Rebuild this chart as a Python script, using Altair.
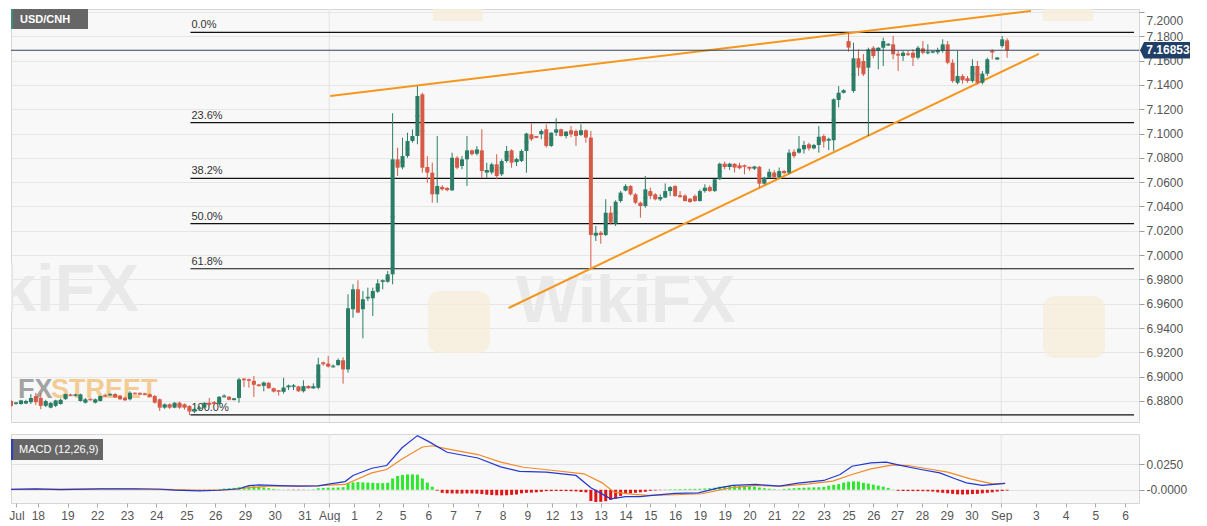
import json
import altair as alt
import pandas as pd

# ---------------- data ----------------
opens = [
    6.8800, 6.8780, 6.8775, 6.8780, 6.8790, 6.8840, 6.8825, 6.8760, 6.8745, 6.8760,
    6.8775, 6.8815, 6.8850, 6.8845, 6.8800, 6.8786, 6.8814, 6.8786, 6.8800, 6.8845,
    6.8850, 6.8857, 6.8841, 6.8827, 6.8814, 6.8862, 6.8863, 6.8860, 6.8855, 6.8841,
    6.8814, 6.8745, 6.8773, 6.8745, 6.8786, 6.8773, 6.8759, 6.8713, 6.8735, 6.8745,
    6.8785, 6.8790, 6.8775, 6.8835, 6.8835, 6.8810, 6.8825, 6.8980, 6.8975, 6.8966,
    6.8933, 6.8925, 6.8950, 6.8905, 6.8885, 6.8875, 6.8915, 6.8920, 6.8920, 6.8880,
    6.8923, 6.8905, 6.8909, 6.9115, 6.9107, 6.9083, 6.9095, 6.9135, 6.9060, 6.9555,
    6.9719, 6.9555, 6.9648, 6.9645, 6.9699, 6.9783, 6.9781, 6.9842, 7.0788, 7.0722,
    7.0815, 7.0939, 7.0980, 7.1323, 7.0725, 7.0678, 7.0500, 7.0561, 7.0552, 7.0533,
    7.0801, 7.0733, 7.0788, 7.0862, 7.0834, 7.0862, 7.0680, 7.0680, 7.0747, 7.0665,
    7.0774, 7.0862, 7.0765, 7.0774, 7.0857, 7.0994, 7.0978, 7.0994, 7.1035, 7.0898,
    7.1007, 7.1035, 7.0980, 7.1027, 7.1021, 7.0989, 7.1027, 7.0967, 7.0160, 7.0184,
    7.0166, 7.0349, 7.0258, 7.0445, 7.0531, 7.0569, 7.0500, 7.0431, 7.0404, 7.0527,
    7.0500, 7.0459, 7.0473, 7.0527, 7.0569, 7.0490, 7.0490, 7.0464, 7.0486, 7.0445,
    7.0527, 7.0560, 7.0527, 7.0624, 7.0752, 7.0725, 7.0752, 7.0738, 7.0735, 7.0725,
    7.0713, 7.0727, 7.0588, 7.0637, 7.0680, 7.0640, 7.0692, 7.0678, 7.0850, 7.0843,
    7.0870, 7.0912, 7.0878, 7.0906, 7.0980, 7.0945, 7.0945, 7.1276, 7.1336, 7.1761,
    7.1350, 7.1619, 7.1597, 7.1542, 7.1706, 7.1679, 7.1706, 7.1728, 7.1734, 7.1652,
    7.1638, 7.1655, 7.1665, 7.1624, 7.1701, 7.1665, 7.1670, 7.1670, 7.1679, 7.1734,
    7.1583, 7.1418, 7.1474, 7.1455, 7.1432, 7.1556, 7.1418, 7.1493, 7.1679, 7.1611,
    7.1720, 7.1767,
]
highs = [
    6.8810, 6.8790, 6.8810, 6.8810, 6.8857, 6.8866, 6.8866, 6.8810, 6.8790, 6.8810,
    6.8820, 6.8860, 6.8860, 6.8860, 6.8860, 6.8825, 6.8820, 6.8820, 6.8845, 6.8860,
    6.8860, 6.8865, 6.8850, 6.8835, 6.8880, 6.8870, 6.8870, 6.8868, 6.8862, 6.8850,
    6.8820, 6.8780, 6.8780, 6.8790, 6.8795, 6.8780, 6.8765, 6.8745, 6.8760, 6.8790,
    6.8825, 6.8800, 6.8840, 6.8855, 6.8840, 6.8825, 6.8990, 6.8990, 6.8985, 6.9006,
    6.8940, 6.8960, 6.8955, 6.8910, 6.8890, 6.8990, 6.8935, 6.8940, 6.8925, 6.8970,
    6.8930, 6.8945, 6.9156, 6.9125, 6.9170, 6.9100, 6.9150, 6.9160, 6.9678, 6.9760,
    6.9793, 6.9705, 6.9732, 6.9732, 6.9801, 6.9800, 6.9869, 7.1167, 7.0884, 7.0966,
    7.1007, 7.1034, 7.1391, 7.1336, 7.0815, 7.0760, 7.0980, 7.0575, 7.0560, 7.0843,
    7.0815, 7.0815, 7.0980, 7.0869, 7.0897, 7.1035, 7.0760, 7.0760, 7.0830, 7.0788,
    7.0898, 7.0870, 7.0801, 7.0870, 7.1007, 7.1082, 7.0980, 7.1035, 7.1076, 7.1010,
    7.1126, 7.1040, 7.1020, 7.1062, 7.1035, 7.1076, 7.1035, 7.1021, 7.0240, 7.0198,
    7.0459, 7.0404, 7.0451, 7.0528, 7.0583, 7.0575, 7.0510, 7.0440, 7.0651, 7.0555,
    7.0510, 7.0500, 7.0590, 7.0569, 7.0575, 7.0527, 7.0500, 7.0470, 7.0500, 7.0540,
    7.0583, 7.0575, 7.0630, 7.0760, 7.0770, 7.0760, 7.0755, 7.0760, 7.0745, 7.0728,
    7.0735, 7.0733, 7.0645, 7.0710, 7.0700, 7.0720, 7.0700, 7.0870, 7.0870, 7.0980,
    7.0939, 7.0925, 7.0915, 7.1062, 7.0994, 7.0967, 7.1290, 7.1391, 7.1365, 7.1830,
    7.1748, 7.1693, 7.1654, 7.1706, 7.1720, 7.1710, 7.1789, 7.1745, 7.1803, 7.1679,
    7.1679, 7.1679, 7.1693, 7.1720, 7.1761, 7.1734, 7.1680, 7.1706, 7.1775, 7.1761,
    7.1611, 7.1679, 7.1488, 7.1474, 7.1611, 7.1597, 7.1515, 7.1624, 7.1693, 7.1630,
    7.1803, 7.1784,
]
lows = [
    6.8750, 6.8770, 6.8770, 6.8775, 6.8775, 6.8766, 6.8733, 6.8750, 6.8740, 6.8750,
    6.8770, 6.8810, 6.8840, 6.8840, 6.8795, 6.8780, 6.8805, 6.8780, 6.8795, 6.8830,
    6.8840, 6.8825, 6.8810, 6.8800, 6.8805, 6.8855, 6.8850, 6.8848, 6.8830, 6.8780,
    6.8718, 6.8735, 6.8735, 6.8740, 6.8735, 6.8730, 6.8685, 6.8700, 6.8720, 6.8740,
    6.8760, 6.8770, 6.8770, 6.8830, 6.8805, 6.8805, 6.8786, 6.8915, 6.8910, 6.8833,
    6.8920, 6.8880, 6.8900, 6.8870, 6.8845, 6.8860, 6.8890, 6.8890, 6.8875, 6.8870,
    6.8900, 6.8900, 6.8897, 6.9090, 6.9075, 6.9075, 6.9090, 6.8943, 6.9033, 6.9485,
    6.9525, 6.9316, 6.9622, 6.9499, 6.9690, 6.9718, 6.9773, 6.9760, 7.0651, 7.0706,
    7.0801, 7.0925, 7.0912, 7.0678, 7.0596, 7.0431, 7.0431, 7.0530, 7.0525, 7.0528,
    7.0706, 7.0706, 7.0569, 7.0820, 7.0820, 7.0637, 7.0637, 7.0665, 7.0624, 7.0651,
    7.0760, 7.0719, 7.0733, 7.0765, 7.0678, 7.0939, 7.0962, 7.0953, 7.0884, 7.0890,
    7.0980, 7.0975, 7.0960, 7.0970, 7.0898, 7.0980, 7.0925, 6.9897, 7.0116, 7.0094,
    7.0157, 7.0253, 7.0239, 7.0432, 7.0525, 7.0490, 7.0420, 7.0308, 7.0390, 7.0459,
    7.0450, 7.0445, 7.0470, 7.0486, 7.0480, 7.0473, 7.0440, 7.0430, 7.0437, 7.0440,
    7.0514, 7.0520, 7.0520, 7.0620, 7.0706, 7.0700, 7.0680, 7.0706, 7.0665, 7.0693,
    7.0700, 7.0555, 7.0580, 7.0630, 7.0630, 7.0630, 7.0665, 7.0665, 7.0800, 7.0835,
    7.0835, 7.0860, 7.0870, 7.0843, 7.0884, 7.0864, 7.0857, 7.1215, 7.1330, 7.1674,
    7.1336, 7.1474, 7.1474, 7.0980, 7.1620, 7.1529, 7.1556, 7.1720, 7.1611, 7.1515,
    7.1597, 7.1638, 7.1556, 7.1610, 7.1652, 7.1652, 7.1660, 7.1652, 7.1665, 7.1570,
    7.1418, 7.1405, 7.1410, 7.1418, 7.1418, 7.1405, 7.1405, 7.1474, 7.1611, 7.1605,
    7.1706, 7.1624,
]
closes = [
    6.8760, 6.8785, 6.8805, 6.8800, 6.8825, 6.8790, 6.8760, 6.8800, 6.8785, 6.8805,
    6.8810, 6.8857, 6.8845, 6.8850, 6.8855, 6.8814, 6.8810, 6.8814, 6.8841, 6.8840,
    6.8855, 6.8830, 6.8814, 6.8806, 6.8868, 6.8860, 6.8856, 6.8852, 6.8833, 6.8786,
    6.8745, 6.8773, 6.8745, 6.8786, 6.8745, 6.8745, 6.8713, 6.8735, 6.8745, 6.8785,
    6.8770, 6.8775, 6.8835, 6.8840, 6.8810, 6.8820, 6.8978, 6.8975, 6.8970, 6.8933,
    6.8925, 6.8952, 6.8905, 6.8877, 6.8880, 6.8911, 6.8925, 6.8925, 6.8880, 6.8923,
    6.8905, 6.8920, 6.9101, 6.9105, 6.9083, 6.9085, 6.9137, 6.9060, 6.9563, 6.9719,
    6.9527, 6.9637, 6.9652, 6.9705, 6.9768, 6.9790, 6.9842, 7.0788, 7.0719, 7.0815,
    7.0939, 7.0980, 7.1309, 7.0719, 7.0678, 7.0500, 7.0569, 7.0542, 7.0535, 7.0801,
    7.0719, 7.0788, 7.0862, 7.0830, 7.0870, 7.0692, 7.0700, 7.0747, 7.0651, 7.0774,
    7.0857, 7.0760, 7.0790, 7.0857, 7.1000, 7.0953, 7.0967, 7.1021, 7.0898, 7.1007,
    7.1035, 7.0980, 7.1016, 7.0994, 7.0980, 7.1027, 7.0967, 7.0166, 7.0184, 7.0166,
    7.0349, 7.0267, 7.0439, 7.0514, 7.0569, 7.0500, 7.0431, 7.0404, 7.0541, 7.0486,
    7.0459, 7.0478, 7.0527, 7.0560, 7.0486, 7.0480, 7.0445, 7.0437, 7.0445, 7.0527,
    7.0555, 7.0527, 7.0624, 7.0752, 7.0725, 7.0752, 7.0720, 7.0715, 7.0730, 7.0713,
    7.0727, 7.0588, 7.0637, 7.0686, 7.0640, 7.0692, 7.0675, 7.0843, 7.0815, 7.0876,
    7.0906, 7.0878, 7.0906, 7.0974, 7.0934, 7.0953, 7.1282, 7.1336, 7.1356, 7.1707,
    7.1619, 7.1542, 7.1488, 7.1693, 7.1638, 7.1706, 7.1761, 7.1734, 7.1652, 7.1645,
    7.1665, 7.1652, 7.1624, 7.1706, 7.1665, 7.1670, 7.1674, 7.1685, 7.1734, 7.1583,
    7.1432, 7.1474, 7.1438, 7.1432, 7.1556, 7.1418, 7.1493, 7.1611, 7.1670, 7.1624,
    7.1775, 7.16853,
]

# MACD (12,26,9): lines read at points, histogram per candle
macd_idx = [0, 5, 10, 18, 25, 30, 33, 38, 42, 46, 48, 50, 54, 58, 62, 64.4, 67.4, 69, 72.8, 75.8,
            78.9, 82, 84.3, 88, 94.2, 98.8, 102.6, 108, 114, 117, 119.4, 121, 124, 127, 129.4,
            134, 138.7, 142.6, 145.6, 150.3, 155, 158.8, 164, 167.3, 169.7, 173.5, 176.6, 179,
            183.6, 187.4, 190.5, 192.8, 196, 200.6]
macd_val = [0.0003, 0.0008, 0.0002, 0.0008, 0.0010, 0.0005, -0.0003, -0.0010, -0.0005, 0.0010,
            0.0040, 0.0048, 0.0040, 0.0036, 0.0038, 0.0058, 0.0080, 0.0140, 0.0210, 0.0237,
            0.0410, 0.0529, 0.0470, 0.0366, 0.0310, 0.0224, 0.0180, 0.0172, 0.0140, 0.0020,
            -0.0045, -0.0088, -0.0068, -0.0068, -0.0055, -0.0036, -0.0030, 0.0016, 0.0042,
            0.0052, 0.0036, 0.0065, 0.0091, 0.0149, 0.0230, 0.0263, 0.0269, 0.0243, 0.0198,
            0.0165, 0.0107, 0.0068, 0.0042, 0.0062]
signal_idx = [0, 20, 30, 38, 44, 48, 52, 58, 62, 67.4, 72.8, 75.8, 78.9, 83, 85, 88, 94.2, 98.8,
              103.4, 109.5, 115.6, 119.2, 121.7, 125.6, 128.6, 134, 139.4, 145, 150.3, 155.7,
              161, 165.8, 169.7, 173.5, 178, 181, 185.8, 189, 193.6, 198, 200.6]
signal_val = [0.0004, 0.0008, 0.0006, -0.0006, 0.0000, 0.0020, 0.0035, 0.0038, 0.0040, 0.0052,
              0.0165, 0.0198, 0.0300, 0.0418, 0.0430, 0.0400, 0.0344, 0.0270, 0.0220, 0.0188,
              0.0156, 0.0070, -0.0023, -0.0045, -0.0055, -0.0049, -0.0039, 0.0019, 0.0042,
              0.0036, 0.0058, 0.0084, 0.0149, 0.0204, 0.0243, 0.0237, 0.0198, 0.0172, 0.0107,
              0.0058, 0.0062]
hist = (
    [0.0002] * 10 + [-0.0002] * 8 + [0.0003] * 13 + [-0.0003] * 11
    + [0.0008, 0.0012, 0.0015, 0.0018, 0.0025, 0.0030, 0.0033, 0.0035, 0.0030, 0.0022, 0.0015, 0.0008]
    + [0.0003, 0.0002, -0.0002, -0.0003, -0.0003, -0.0002, 0.0002, 0.0004]
    + [0.0015, 0.0018, 0.0020, 0.0020, 0.0022, 0.0025]
    + [0.0065, 0.0072, 0.0075, 0.0072, 0.0070, 0.0068, 0.0065, 0.0065, 0.0068]
    + [0.0110, 0.0135, 0.0145, 0.0150, 0.0150, 0.0148, 0.0110, 0.0070, 0.0030]
    + [-0.0008, -0.0030, -0.0035, -0.0036, -0.0037, -0.0037, -0.0036, -0.0036, -0.0038, -0.0042]
    + [-0.0048, -0.0052, -0.0054, -0.0055, -0.0054, -0.0050, -0.0046]
    + [-0.0035, -0.0030, -0.0028, -0.0025, -0.0020]
    + [-0.0014, -0.0013, -0.0012, -0.0012, -0.0013, -0.0014, -0.0016, -0.0022, -0.0025]
    + [-0.0110, -0.0120, -0.0118, -0.0112, -0.0100, -0.0085, -0.0060]
    + [-0.0042, -0.0036, -0.0030, -0.0025, -0.0020, -0.0010, -0.0006, -0.0003, -0.0002]
    + [0.0005, 0.0006, 0.0007, 0.0008, 0.0008, 0.0009, 0.0010, 0.0012, 0.0015, 0.0020]
    + [0.0030, 0.0035, 0.0038, 0.0040, 0.0040, 0.0038, 0.0035, 0.0030]
    + [0.0022, 0.0015, 0.0010, 0.0005, 0.0002]
    + [0.0008, 0.0012, 0.0015, 0.0018, 0.0020, 0.0022, 0.0023, 0.0025, 0.0028]
    + [0.0040, 0.0048, 0.0055, 0.0070, 0.0078, 0.0082, 0.0080]
    + [0.0068, 0.0060, 0.0050, 0.0040, 0.0030, 0.0018, 0.0003]
    + [-0.0010, -0.0012, -0.0013, -0.0013, -0.0013, -0.0014, -0.0015, -0.0018]
    + [-0.0025, -0.0030, -0.0035, -0.0040, -0.0045, -0.0046, -0.0045, -0.0042, -0.0040]
    + [-0.0035, -0.0030, -0.0025, -0.0018, -0.0012, -0.0008]
)

tick_pos = [1.7, 6.0, 12.0, 18.0, 24.0, 29.9, 36.0, 41.8, 47.8, 53.8, 59.8, 64.8, 69.8, 74.8,
            79.6, 84.8, 89.8, 94.8, 99.8, 104.8, 109.8, 114.6, 119.6, 124.6, 129.6, 134.6,
            139.6, 144.6, 149.6, 154.6, 159.4, 164.6, 169.6, 174.6, 179.4, 184.4, 189.4, 194.4,
            200.4, 207.4, 213.4, 219.4, 225.4]
tick_labels = ["Jul", "18", "19", "22", "23", "24", "25", "26", "29", "30", "31", "Aug", "1", "2",
               "5", "6", "7", "7", "8", "9", "12", "13", "13", "14", "15", "16", "19", "19", "20",
               "21", "22", "23", "25", "26", "27", "28", "29", "30", "Sep", "3", "4", "5", "6"]
month_pos = [64.8, 200.4]
price_ticks = [6.88, 6.90, 6.92, 6.94, 6.96, 6.98, 7.00, 7.02, 7.04, 7.06, 7.08, 7.10, 7.12,
               7.14, 7.16, 7.18, 7.20]
macd_ticks = [0.0, 0.025]
fib_levels = [7.1833, 7.1090, 7.0631, 7.0259, 6.9888, 6.8685]
fib_labels = ["0.0%", "23.6%", "38.2%", "50.0%", "61.8%", "100.0%"]
upper_t = [65.0, 206.4]
upper_p = [7.1309, 7.2008]
lower_t = [101.0, 208.0]
lower_p = [6.9565, 7.1655]
last_price = 7.16853
last_label = "7.16853"

# ---------------- frames ----------------
candles = pd.DataFrame({"open": opens, "high": highs, "low": lows, "close": closes})
candles["t"] = [i + 0.6 for i in range(len(candles))]
candles["mid"] = (candles["open"] + candles["close"]) / 2

hist_df = pd.DataFrame({"hist": hist})
hist_df["t"] = [i + 0.6 for i in range(len(hist_df))]
hist_df["zero"] = 0.0
macd_df = pd.DataFrame({"t": [v + 0.6 for v in macd_idx], "v": macd_val})
sig_df = pd.DataFrame({"t": [v + 0.6 for v in signal_idx], "v": signal_val})
fib_df = pd.DataFrame({"level": fib_levels, "label": fib_labels,
                       "t0": [36.8] * len(fib_levels), "t1": [227.2] * len(fib_levels),
                       "tl": [37.0] * len(fib_levels)})
trend_df = pd.concat([
    pd.DataFrame({"t": upper_t, "p": upper_p, "line": "upper"}),
    pd.DataFrame({"t": lower_t, "p": lower_p, "line": "lower"}),
], ignore_index=True)
month_df = pd.DataFrame({"t": month_pos})
last_df = pd.DataFrame({"p": [last_price], "lbl": [last_label]})
one = pd.DataFrame({"a": [0.0]})

FONT = "Liberation Sans"
GREEN, RED = "#2b7d66", "#d65b47"
W, H_MAIN, H_MACD = 1128, 413, 69
X_DOM = [1.6, 227.2]
xs = alt.Scale(domain=X_DOM, nice=False, zero=False)
ys = alt.Scale(domain=[6.86272, 7.20247], nice=False, zero=False)
ms = alt.Scale(domain=[-0.01294, 0.05447], nice=False, zero=False)

price_axis = alt.Axis(orient="right", values=price_ticks, format=".4f", grid=True,
                      gridColor="#e6e6e6", tickColor="#9a9a9a", tickSize=5, domain=False,
                      labelFont=FONT, labelFontSize=12, labelColor="#555555", labelPadding=2,
                      labelFlush=4, labelFlushOffset=-3)
label_expr = "{}[indexof({}, datum.value)]".format(json.dumps(tick_labels), json.dumps(tick_pos))
time_axis = alt.Axis(orient="bottom", values=tick_pos, labelExpr=label_expr, grid=False,
                     tickColor="#aaaaaa", tickSize=4, domain=False, labelFont=FONT,
                     labelFontSize=12, labelColor="#555555", labelPadding=3, labelFlush=4,
                     labelOverlap=False)
macd_axis = alt.Axis(orient="right", values=macd_ticks, grid=True, gridColor="#e2e2e2",
                     labelExpr="datum.value == 0 ? '-0.0000' : format(datum.value, '.4f')",
                     tickColor="#9a9a9a", tickSize=5, domain=False, labelFont=FONT,
                     labelFontSize=12, labelColor="#555555", labelPadding=2)

candle_color = alt.condition("datum.close >= datum.open", alt.value(GREEN), alt.value(RED))
hist_color = alt.condition("datum.hist >= 0", alt.value("#2ee82e"), alt.value("#e01515"))


def Xm(f="t:Q"):
    return alt.X(f, scale=xs, axis=None, title=None)


def Xb(f="t:Q"):
    return alt.X(f, scale=xs, axis=time_axis, title=None)


def Yp(f):
    return alt.Y(f, scale=ys, axis=price_axis, title=None)


def Ym(f):
    return alt.Y(f, scale=ms, axis=macd_axis, title=None)


def box(x0, x1, y0, y1, color, opacity=1.0, radius=0, clip=False):
    return alt.Chart(one).mark_rect(color=color, opacity=opacity, cornerRadius=radius, clip=clip).encode(
        x=alt.value(x0), x2=alt.value(x1), y=alt.value(y0), y2=alt.value(y1))


def label(x, y, s, size, color, weight="normal", align="left", baseline="middle", clip=False):
    return alt.Chart(one).mark_text(font=FONT, fontSize=size, fontWeight=weight, color=color,
                                    align=align, baseline=baseline, clip=clip).encode(
        x=alt.value(x), y=alt.value(y), text=alt.value(s))


# ---------------- main panel ----------------
months = alt.Chart(month_df).mark_rule(color="#e2e2e2", strokeWidth=1).encode(x=Xm())

wm = [
    box(417, 479, 282, 344, "#f6ecd8", 0.8, 12, True),
    box(1032, 1094, 287, 349, "#f6ecd8", 0.8, 12, True),
    box(422, 472, 0, 12, "#f6ecd8", 0.8, 0, True),
    box(1032, 1082, 0, 12, "#f6ecd8", 0.8, 0, True),
    label(128, 282, "WikiFX", 66, "#e9e9e9", "bold", "right", clip=True),
    label(505, 293, "WikiFX", 66, "#e9e9e9", "bold", "left", clip=True),
    label(7, 389, "FX", 27, "#a3a3a3", "bold", "left", "alphabetic"),
    label(40, 389, "STREET", 27, "#f3cc94", "bold", "left", "alphabetic"),
]

fib_rules = alt.Chart(fib_df).mark_rule(color="#111111", strokeWidth=1.2).encode(
    x=Xm("t0:Q"), x2="t1:Q", y=Yp("level:Q"))
fib_text = alt.Chart(fib_df).mark_text(font=FONT, fontSize=11, color="#333333", align="left",
                                       baseline="bottom", dy=-2).encode(
    x=Xm("tl:Q"), y=Yp("level:Q"), text="label:N")

trend = alt.Chart(trend_df).mark_line(color="#f5961e", strokeWidth=2, clip=True).encode(
    x=Xm(), y=Yp("p:Q"), detail="line:N")

wicks = alt.Chart(candles).mark_rule(strokeWidth=1, clip=True).encode(
    x=Xm(), y=Yp("low:Q"), y2="high:Q", color=candle_color)
bodies = alt.Chart(candles).mark_bar(width=4, clip=True).encode(
    x=Xm(), y=Yp("open:Q"), y2="close:Q", color=candle_color)
dojis = alt.Chart(candles).mark_tick(thickness=2, size=4, orient="horizontal", clip=True).encode(
    x=Xm(), y=Yp("mid:Q"), color=candle_color)

price_line = alt.Chart(last_df).mark_rule(color="#34465e", strokeWidth=1).encode(y=Yp("p:Q"))
tag = alt.Chart(last_df).mark_point(
    shape="M-1.17,0L-1,-0.36L1,-0.36L1,0.36L-1,0.36Z", size=2116, filled=True, opacity=1,
    color="#1f3f66", clip=False).encode(x=alt.value(1156), y=Yp("p:Q"))
tag_text = alt.Chart(last_df).mark_text(font=FONT, fontSize=12, fontWeight="bold", color="white",
                                        align="center", baseline="middle", clip=False).encode(
    x=alt.value(1157), y=Yp("p:Q"), text="lbl:N")

title_parts = [
    box(0, 77, 0, 20, "#666666"),
    box(0, 2, 0, 20, "#3e8c7c"),
    label(9, 10.5, "USD/CNH", 11, "white", "bold"),
]

main = alt.layer(
    months, *wm, fib_rules, fib_text, trend, wicks, bodies, dojis, price_line, tag,
    tag_text, *title_parts,
).properties(width=W, height=H_MAIN)

# ---------------- MACD panel ----------------
mmonths = alt.Chart(month_df).mark_rule(color="#e2e2e2", strokeWidth=1).encode(x=Xb())
bars = alt.Chart(hist_df).mark_bar(width=3, clip=True).encode(
    x=Xb(), y=Ym("hist:Q"), y2="zero:Q", color=hist_color)
sig_line = alt.Chart(sig_df).mark_line(color="#f08a2a", strokeWidth=1.2, clip=True).encode(
    x=Xb(), y=Ym("v:Q"))
macd_line = alt.Chart(macd_df).mark_line(color="#2238d0", strokeWidth=1.2, clip=True).encode(
    x=Xb(), y=Ym("v:Q"))
m_parts = [
    box(0, 92, 5, 26, "#666666"),
    box(0, 2, 5, 26, "#2a3fc8"),
    label(8, 16, "MACD (12,26,9)", 11, "white"),
]

macd = alt.layer(mmonths, bars, sig_line, macd_line, *m_parts
                 ).properties(width=W, height=H_MACD)

chart = alt.vconcat(main, macd, spacing=10).properties(
    padding={"left": 0, "top": 0, "right": 0, "bottom": 0}
).configure_view(fill="#f8f8f8", stroke="#d6d6d6")

chart.save("out.html", embed_options={"renderer": "svg", "actions": False})
